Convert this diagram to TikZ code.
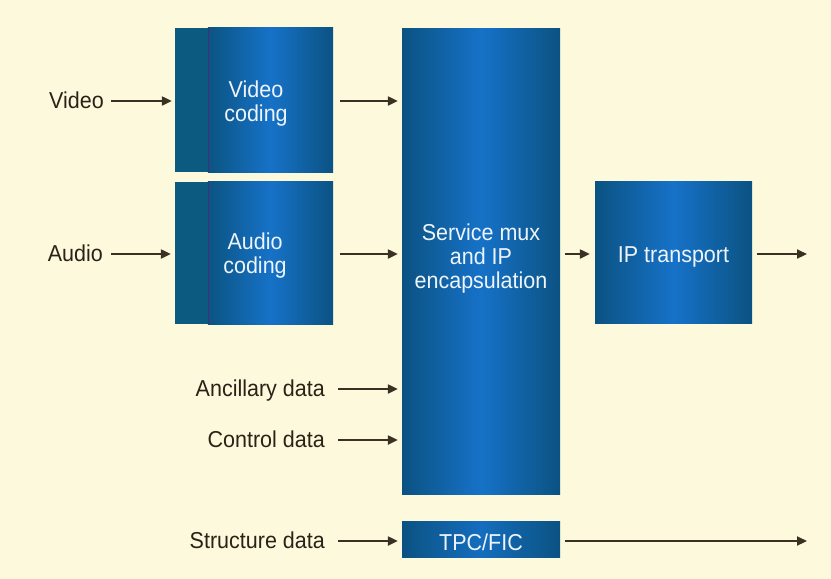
\documentclass[tikz,border=0pt]{standalone}
\usepackage{fontspec}
\setmainfont{Liberation Sans}[FakeStretch=0.935]
\usetikzlibrary{arrows.meta}
\definecolor{bg}{HTML}{FDF9DD}
\definecolor{ink}{HTML}{2A2216}
\definecolor{arrowc}{HTML}{3B3122}
\definecolor{bdark}{HTML}{0B5282}
\definecolor{bmid}{HTML}{1672C8}
\definecolor{bstrip}{HTML}{0D5A80}
\definecolor{btext}{HTML}{EEF4FA}
\tikzset{
  blockbox/.style={draw=none, inner sep=0pt, left color=bdark, right color=bdark, middle color=bmid},
  codebox/.style={draw=none, inner sep=0pt, fill=bstrip},
  intext/.style={text=btext, align=center, font=\fontsize{23}{24}\selectfont, inner sep=0pt},
  outtext/.style={text=ink, font=\fontsize{23}{24}\selectfont, inner sep=0pt},
  arr/.style={draw=arrowc, line width=2.2pt, -{Triangle[length=10pt,width=9pt]}},
}
\begin{document}
\begin{tikzpicture}[x=1pt,y=-1pt]
\fill[bg] (0,0) rectangle (831,579);
\useasboundingbox (0,0) rectangle (831,579);

% boxes
\node[codebox, minimum width=158pt, minimum height=144pt] (vid) at (254,100) {};
\fill[left color=bdark!80!bstrip, right color=bdark, middle color=bmid] ([xshift=33pt]vid.south west) rectangle (vid.north east);
\draw[color=violet!50!bstrip, line width=0.6pt] ([xshift=33pt]vid.south west) -- ([xshift=33pt]vid.north west);
\node[codebox, minimum width=158pt, minimum height=142pt] (aud) at (254,253) {};
\fill[left color=bdark!80!bstrip, right color=bdark, middle color=bmid] ([xshift=33pt]aud.south west) rectangle (aud.north east);
\draw[color=violet!50!bstrip, line width=0.6pt] ([xshift=33pt]aud.south west) -- ([xshift=33pt]aud.north west);
\node[blockbox, minimum width=158pt, minimum height=466pt] (mux) at (481,261) {};
\node[blockbox, minimum width=157pt, minimum height=142pt] (ipt) at (673.5,252) {};
\node[blockbox, minimum width=158pt, minimum height=36pt, middle color=bmid!85!bdark] (tpc) at (481,539) {};

% box texts
\node[intext] (vidt) at (256,104) {Video\\coding};
\node[intext] (audt) at (255,256) {Audio\\coding};
\node[intext] (muxt) at (481,259) {Service mux\\and IP\\encapsulation};
\node[intext] (iptt) at (673.5,257) {IP transport};
\node[intext] (tpct) at (481,542) {TPC/FIC};

% outside labels
\node[outtext, anchor=base east] (vlab) at (104,108) {Video};
\node[outtext, anchor=base east] (alab) at (103,261) {Audio};
\node[outtext, anchor=base east] (anclab) at (325,396) {Ancillary data};
\node[outtext, anchor=base east] (ctllab) at (325,447) {Control data};
\node[outtext, anchor=base east] (strlab) at (325,548) {Structure data};

\coordinate (out1) at (807,254);
\coordinate (out2) at (807,541);

% arrows
\draw[arr] (111,101) -- ([xshift=-3pt]vid.west |- 0,101);
\draw[arr] ([xshift=7pt]vid.east |- 0,101) -- ([xshift=-4pt]mux.west |- 0,101);
\draw[arr] (111,254) -- ([xshift=-4pt]aud.west |- 0,254);
\draw[arr] ([xshift=7pt]aud.east |- 0,254) -- ([xshift=-4pt]mux.west |- 0,254);
\draw[arr] ([xshift=5pt]mux.east |- 0,254) -- ([xshift=-5pt]ipt.west |- 0,254);
\draw[arr] ([xshift=5pt]ipt.east |- 0,254) -- (out1);
\draw[arr] (338,389) -- ([xshift=-4pt]mux.west |- 0,389);
\draw[arr] (338,440) -- ([xshift=-4pt]mux.west |- 0,440);
\draw[arr] (338,541) -- ([xshift=-4pt]tpc.west |- 0,541);
\draw[arr] ([xshift=5pt]tpc.east |- 0,541) -- (out2);
\end{tikzpicture}
\end{document}
